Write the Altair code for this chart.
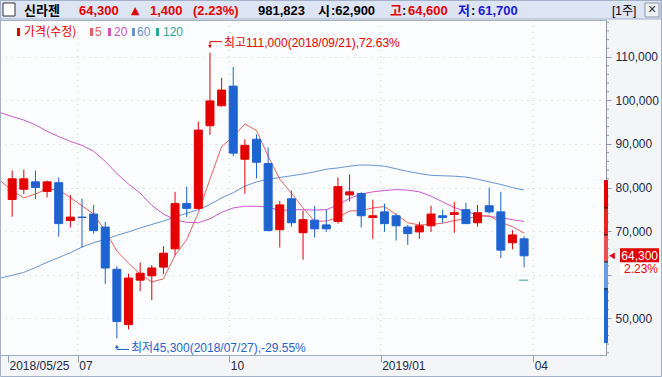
import altair as alt
import pandas as pd

# ---------------- data ----------------
candle_idx = list(range(45))
opens = [77250, 79600, 81300, 79100, 81100, 72400, 73200, 73900, 70900, 61200,
         48500, 58700, 59700, 61700, 65900, 76300, 75200, 94200, 98800, 103300,
         86500, 91100, 85500, 70300, 77400, 69600, 72500, 71400, 72200, 78300,
         78600, 73100, 74400, 73500, 70900, 69800, 71200, 73500, 73800, 74900,
         71900, 75800, 74400, 67300, 68200]
highs = [83900, 84100, 83900, 81600, 82300, 78300, 77400, 76000, 72100, 61900,
         60200, 62800, 62200, 66500, 79000, 80200, 95100, 111000, 105200, 107700,
         91100, 92200, 89200, 76900, 79300, 74700, 75800, 74900, 82300, 83000,
         78900, 77200, 76300, 74000, 71400, 72100, 75800, 74900, 76700, 76500,
         76000, 80000, 79000, 70200, 68800]
lows = [73300, 78500, 77300, 77700, 68700, 70800, 66200, 69400, 57800, 45300,
        47400, 56200, 54100, 60100, 64400, 73200, 74900, 92100, 98600, 87200,
        78600, 82100, 69900, 66200, 71000, 63400, 68500, 69800, 71700, 76800,
        70800, 68200, 69800, 67800, 66800, 68200, 69800, 71800, 69600, 71600,
        71000, 74000, 63800, 65800, 61700]
closes = [82000, 82000, 80000, 81300, 71700, 73200, 73100, 70100, 61500, 49200,
          59200, 60300, 61500, 64900, 76300, 75200, 93200, 99900, 102400, 87900,
          89700, 85800, 70100, 76000, 71900, 72600, 70500, 70500, 80200, 79000,
          73500, 73500, 71700, 71200, 69400, 71200, 73900, 73100, 74200, 71700,
          74200, 74400, 65600, 69100, 64300]

ma_idx = list(range(-1, 45))
ma5 = [81500, 79300, 77600, 78500, 79700, 79400, 77700, 75800, 73900, 70000,
       65400, 62600, 60100, 58300, 59000, 64400, 68000, 74200, 81900, 89400,
       91700, 94600, 93100, 87200, 81900, 78700, 75300, 72200, 72300, 73100,
       74600, 74700, 75300, 75600, 73800, 71900, 71400, 71500, 71800, 72400,
       72800, 73400, 73500, 72000, 71000, 69500]
ma20 = [97200, 96300, 95500, 94400, 92900, 91700, 90600, 89700, 88300, 86000,
        83200, 80800, 78700, 75900, 73900, 72600, 72000, 71900, 72800, 74300,
        75300, 75700, 75700, 75500, 74700, 74900, 74900, 74800, 74900, 76000,
        77500, 78500, 79000, 79300, 79500, 79400, 79000, 78000, 76700, 75400,
        74500, 73700, 73300, 73100, 72600, 72200]
ma60 = [59200, 59800, 60500, 61600, 62800, 63900, 65000, 66300, 67300, 68100,
        69000, 69800, 70700, 71500, 72300, 73200, 74100, 74900, 76100, 77600,
        78800, 80300, 81300, 81900, 82300, 82700, 83100, 83600, 84200, 84500,
        84900, 85200, 85100, 84900, 84300, 83700, 83200, 82800, 82700, 82600,
        82400, 81900, 81300, 80700, 80000, 79400]
ma120_idx = [44]
ma120 = [58700]

# price band bar on the right axis
band_hi = [81700, 75300, 69100, 62900, 56700]
band_lo = [75300, 69100, 62900, 56700, 44250]
band_marks = [75300, 69100, 62900, 56700]

y_ticks = [50000, 60000, 70000, 80000, 90000, 100000, 110000]
y_hidden = [60000]   # label covered by the current-price badge
minor_ticks = [42000, 44000, 46000, 48000, 52000, 54000, 56000, 58000,
               62000, 64000, 66000, 68000, 72000, 74000, 76000, 78000,
               82000, 84000, 86000, 88000, 92000, 94000, 96000, 98000,
               102000, 104000, 106000, 108000, 112000, 114000, 116000, 118000]
x_tick_pos = [-0.36, 5.64, 18.66, 31.67, 44.78]
x_tick_labels = ["2018/05/25", "07", "10", "2019/01", "04"]
x_grid = [5.64, 18.66, 31.67, 44.78]

stock_name = "신라젠"
last_price = 64300
change = 1400
change_pct = 2.23
volume = 981823
day_open, day_high, day_low = 62900, 64600, 61700
max_date, max_pct = "2018/09/21", 72.63
min_date, min_pct = "2018/07/27", -29.55

# ---------------- styles ----------------
RED = "#e40000"
BLUE = "#1f63cf"
C5, C20, C60, C120 = "#e8625c", "#cc55cc", "#6495d2", "#2aa898"
BAND_COLORS = ["#e00000", "#e62424", "#ee5050", "#6a9ee2", "#2466d4"]
NUM = "Liberation Sans, Noto Sans CJK KR"
KR = "Noto Sans CJK KR"
AXC = "#8c9ab2"
LBL = "#232a48"

xs = alt.Scale(domain=[-0.617, 50.61], nice=False, zero=False)
ys = alt.Scale(domain=[41500, 118500], nice=False, zero=False)

x_label_expr = ("[" + ",".join(f"'{s}'" for s in x_tick_labels) + "][indexof(["
                + ",".join(str(v) for v in x_tick_pos) + "], datum.value)]")
y_label_expr = ("indexof([" + ",".join(str(v) for v in y_hidden)
                + "], datum.value) >= 0 ? '' : format(datum.value, ',')")
xaxis = alt.Axis(values=x_tick_pos, labelExpr=x_label_expr, grid=False, domain=False,
                 tickSize=7, tickColor=AXC, labelAlign="left", labelBaseline="top",
                 labelPadding=-2, labelOffset=1, labelFont=NUM, labelFontSize=12,
                 labelColor=LBL, title=None, labelOverlap=False, labelFlush=False,
                 labelBound=False)
yaxis = alt.Axis(orient="right", values=y_ticks, labelExpr=y_label_expr, grid=True,
                 gridDash=[1, 5], gridColor="#c2c8d2", tickSize=5, tickColor=AXC,
                 domainColor=AXC, labelPadding=4, labelFont=NUM, labelFontSize=12,
                 labelColor=LBL, title=None, labelAlign="left", labelBaseline="middle",
                 labelOverlap=False, labelFlush=False, labelBound=False)


def X(f):
    return alt.X(f, scale=xs, axis=xaxis)


def Y(f):
    return alt.Y(f, scale=ys, axis=yaxis)


candles = pd.DataFrame({"i": candle_idx, "o": opens, "h": highs, "l": lows, "c": closes})
candles["up"] = [c >= o for o, c in zip(opens, closes)]
dir_color = alt.condition("datum.up", alt.value(RED), alt.value(BLUE))

ONE = alt.Data(values=[{"a": 1}])


def txt(s, x, y, color="#000000", size=12, weight="normal", font=NUM, align="left"):
    return alt.Chart(ONE).mark_text(text=s, align=align, baseline="middle", fontSize=size,
                                    fontWeight=weight, font=font, color=color).encode(
        x=alt.value(x), y=alt.value(y))


def box(x, x2, y, y2, fill, stroke=None):
    kw = {"fill": fill}
    if stroke:
        kw.update(stroke=stroke, strokeWidth=1)
    return alt.Chart(ONE).mark_rect(**kw).encode(
        x=alt.value(x), x2=alt.value(x2), y=alt.value(y), y2=alt.value(y2))


layers = []

# vertical grid
layers.append(alt.Chart(pd.DataFrame({"g": x_grid})).mark_rule(
    color="#c2c8d2", strokeDash=[1, 5], strokeWidth=1).encode(x=X("g:Q")))

# moving averages
for vals, col in [(ma60, C60), (ma20, C20), (ma5, C5)]:
    layers.append(alt.Chart(pd.DataFrame({"i": ma_idx, "v": vals})).mark_line(
        strokeWidth=1, clip=True, color=col).encode(x=X("i:Q"), y=Y("v:Q")))

# MA120 (only its last point is inside the window)
layers.append(alt.Chart(pd.DataFrame({"i": ma120_idx, "v": ma120})).mark_rule(
    color=C120, strokeWidth=1, xOffset=-5, x2Offset=4).encode(
    x=X("i:Q"), x2=alt.X2(field="i"), y=Y("v:Q")))

# wicks
layers.append(alt.Chart(candles).mark_rule(strokeWidth=1).encode(
    x=X("i:Q"), y=Y("l:Q"), y2=alt.Y2(field="h"), color=dir_color))

# bodies
layers.append(alt.Chart(candles).mark_bar(size=8, strokeWidth=1).encode(
    x=X("i:Q"), y=Y("o:Q"), y2=alt.Y2(field="c"),
    color=dir_color,
    stroke=alt.condition("datum.up", alt.value(RED), alt.value(BLUE))))

# max / min annotations
imax = highs.index(max(highs))
imin = lows.index(min(lows))
mx = pd.DataFrame({"i": [imax], "v": [highs[imax]]})
mn = pd.DataFrame({"i": [imin], "v": [lows[imin]]})
layers += [
    alt.Chart(mx).mark_rule(color=RED, x2Offset=12, yOffset=-11, y2Offset=-11).encode(
        x=X("i:Q"), x2=alt.X2(field="i"), y=Y("v:Q"), y2=alt.Y2(field="v")),
    alt.Chart(mx).mark_rule(color=RED, yOffset=-11, y2Offset=-6).encode(
        x=X("i:Q"), y=Y("v:Q"), y2=alt.Y2(field="v")),
    alt.Chart(mx).mark_point(shape="triangle-down", filled=True, size=14, color=RED,
                             opacity=1, yOffset=-6).encode(x=X("i:Q"), y=Y("v:Q")),
    alt.Chart(mx).mark_text(text=f"최고{highs[imax]:,}({max_date}),{max_pct:.2f}%",
                            align="left", baseline="middle", dx=14, dy=-10, font=NUM,
                            fontSize=12, color=RED).encode(x=X("i:Q"), y=Y("v:Q")),
    alt.Chart(mn).mark_rule(color=BLUE, x2Offset=12, yOffset=11, y2Offset=11).encode(
        x=X("i:Q"), x2=alt.X2(field="i"), y=Y("v:Q"), y2=alt.Y2(field="v")),
    alt.Chart(mn).mark_rule(color=BLUE, yOffset=8, y2Offset=11).encode(
        x=X("i:Q"), y=Y("v:Q"), y2=alt.Y2(field="v")),
    alt.Chart(mn).mark_point(shape="triangle-up", filled=True, size=14, color=BLUE,
                             opacity=1, yOffset=8).encode(x=X("i:Q"), y=Y("v:Q")),
    alt.Chart(mn).mark_text(text=f"최저{lows[imin]:,}({min_date}),{min_pct:.2f}%",
                            align="left", baseline="middle", dx=14, dy=10, font=NUM,
                            fontSize=12, color=BLUE).encode(x=X("i:Q"), y=Y("v:Q")),
]

# minor ticks on the price axis
layers.append(alt.Chart(pd.DataFrame({"v": minor_ticks})).mark_rule(color=AXC).encode(
    x=alt.value(606), x2=alt.value(609), y=Y("v:Q")))

# price band bar along the axis
for hi, lo, col in zip(band_hi, band_lo, BAND_COLORS):
    layers.append(alt.Chart(pd.DataFrame({"hi": [hi], "lo": [lo]})).mark_rect(color=col).encode(
        x=alt.value(604), x2=alt.value(608), y=Y("hi:Q"), y2=alt.Y2(field="lo")))
layers.append(alt.Chart(pd.DataFrame({"v": band_marks})).mark_rule(color="#111111").encode(
    x=alt.value(604), x2=alt.value(608), y=Y("v:Q")))

# current price badge
badge = pd.DataFrame({"v": [last_price], "t": [f"{last_price:,}"], "p": [f"{change_pct:.2f}%"]})
layers += [
    alt.Chart(badge).mark_rect(color="#ffffff", yOffset=7, y2Offset=19).encode(
        x=alt.value(620), x2=alt.value(659), y=Y("v:Q"), y2=alt.Y2(field="v")),
    alt.Chart(badge).mark_rect(color=RED, yOffset=-7.5, y2Offset=6.5).encode(
        x=alt.value(620), x2=alt.value(659), y=Y("v:Q"), y2=alt.Y2(field="v")),
    alt.Chart(badge).mark_point(shape="triangle-left", filled=True, size=45, color=RED,
                                opacity=1).encode(x=alt.value(612), y=Y("v:Q")),
    alt.Chart(badge).mark_text(align="right", baseline="middle", font=NUM, fontSize=12,
                               color="#ffffff").encode(x=alt.value(658), y=Y("v:Q"), text="t:N"),
    alt.Chart(badge).mark_text(align="right", baseline="middle", font=NUM, fontSize=12,
                               color=RED, dy=13).encode(x=alt.value(658), y=Y("v:Q"), text="p:N"),
]

# legend row
legend_items = [
    (17, 24, "가격(수정)", RED, KR),
    (90, 95, "5", C5, NUM),
    (108, 114, "20", C20, NUM),
    (132, 137, "60", C60, NUM),
    (156, 163, "120", C120, NUM),
]
for mxp, tx, s, col, f in legend_items:
    layers.append(box(mxp, mxp + 3, 8, 16, col))
    layers.append(txt(s, tx, 12, col, 12, "normal", f))

# header bar
HB = "#1a1ad0"
layers += [
    box(0, 661, -20, -1, "#dde5f5", "#a4b0c8"),
    box(3, 15, -17, -4, "#ffffff", "#333333"),
    txt(stock_name, 24, -9, "#000000", 13, "bold", KR),
    txt(f"{last_price:,}", 79, -9, RED, 13, "bold"),
    txt("▲", 131, -9, RED, 11, "normal", "DejaVu Sans"),
    txt(f"{change:,}", 150, -9, RED, 13, "bold"),
    txt(f"({change_pct:.2f}%)", 193, -9, RED, 13, "bold"),
    txt(f"{volume:,}", 258, -9, "#000000", 13, "bold"),
    txt("시", 318, -9, "#000000", 13, "bold", KR),
    txt(f":{day_open:,}", 331, -9, "#000000", 13, "bold"),
    txt("고", 390, -9, RED, 13, "bold", KR),
    txt(":", 402, -9, "#000000", 13, "bold"),
    txt(f"{day_high:,}", 408, -9, RED, 13, "bold"),
    txt("저", 458, -9, HB, 13, "bold", KR),
    txt(":", 471, -9, "#000000", 13, "bold"),
    txt(f"{day_low:,}", 478, -9, HB, 13, "bold"),
    txt("[1주]", 612, -9, "#000000", 12, "normal", NUM),
    box(645, 659, -17, -3, "#eef2f8", "#8a96aa"),
    txt("✕", 652, -10, "#333333", 11, "bold", "DejaVu Sans", "center"),
    alt.Chart(ONE).mark_rect(fill=None, stroke="#a4b0c8", strokeWidth=1).encode(
        x=alt.value(0.5), x2=alt.value(661.5), y=alt.value(-19.5), y2=alt.value(356.5)),
]

chart = alt.layer(*layers).properties(
    width=606, height=335,
    padding={"left": 0, "top": 20, "right": 56, "bottom": 22},
    autosize=alt.AutoSizeParams(type="none"),
    background="#f3f5f7",
).configure_view(fill="#fcfdfe", stroke="#a0aec4", strokeWidth=1)

chart.save("out.html", embed_options={"renderer": "svg", "actions": False})
